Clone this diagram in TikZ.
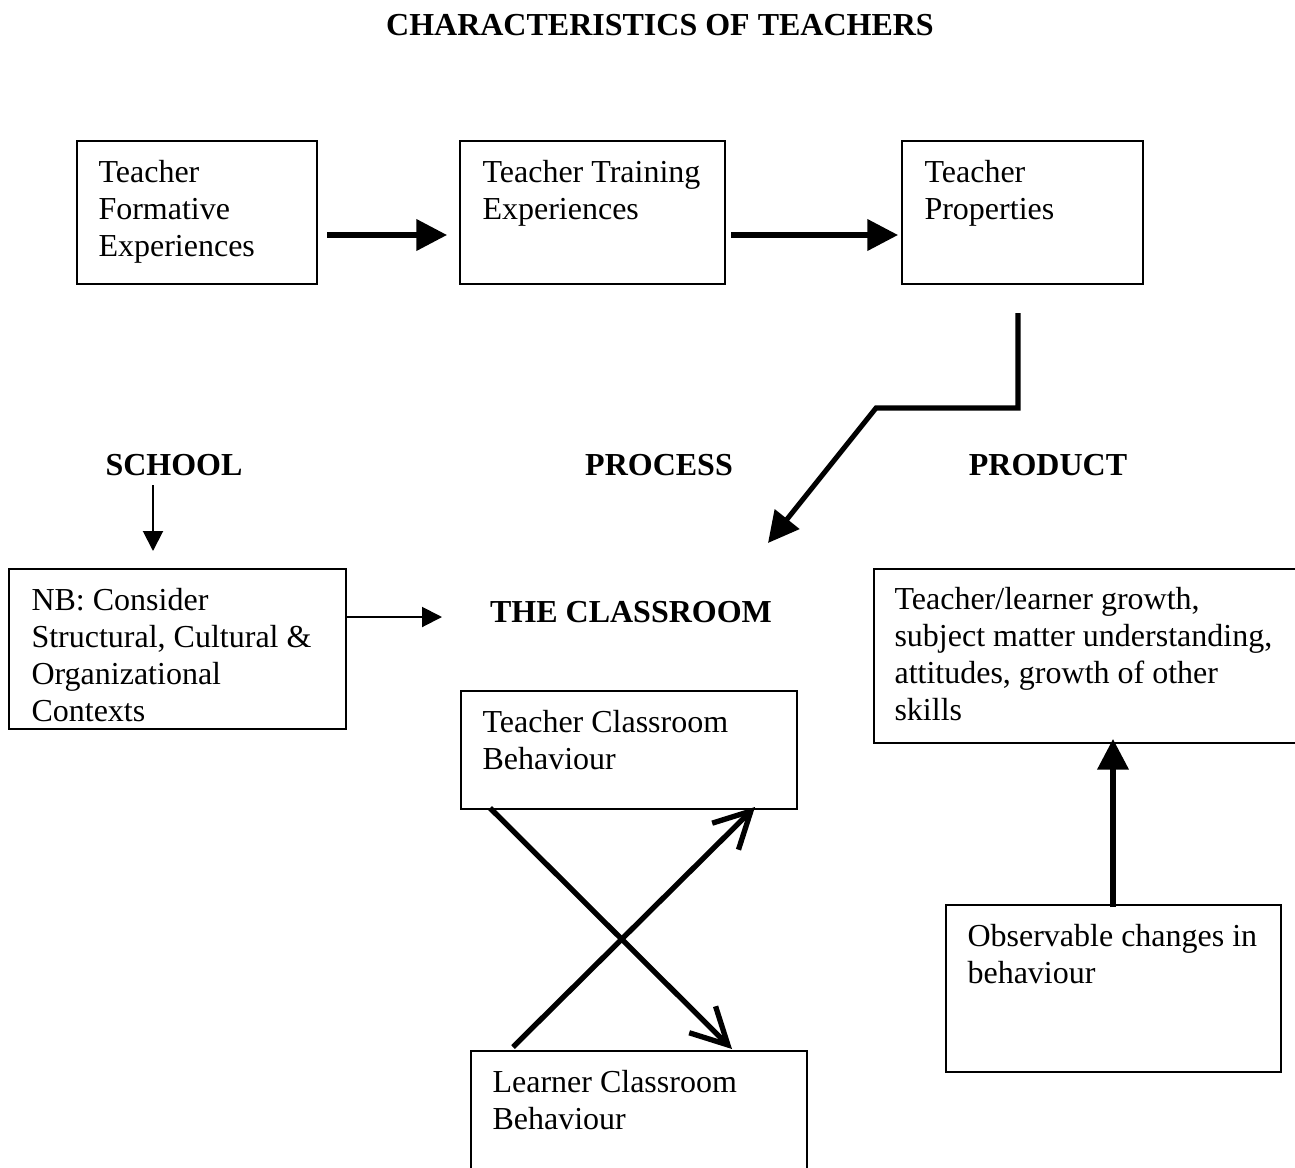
\documentclass[tikz,border=0pt]{standalone}
\usepackage{fontspec}
\setmainfont{Liberation Serif}
\usetikzlibrary{arrows.meta,fit}
\begin{document}
\begin{tikzpicture}[x=0.375pt,y=-0.375pt,
  box/.style={draw,line width=0.75pt,inner sep=0pt},
  txt/.style={anchor=north west,align=left,inner sep=0pt,font=\fontsize{12}{13.875}\selectfont},
  hd/.style={anchor=base,inner sep=0pt,font=\fontsize{12}{13.875}\selectfont\bfseries},
  thickarrow/.style={line width=1.9pt,-{Triangle[length=11.5pt,width=11.5pt]}},
  thinarrow/.style={line width=0.75pt,-{Triangle[length=7.5pt,width=7.5pt]}},
  barbarrow/.style={line width=2pt,-{Straight Barb[length=13.5pt,width=14pt]}},
]
\clip (0,0) rectangle (1295,1167);
\fill[white] (0,0) rectangle (1295,1167);

% title and headings
\node[hd] (title) at (660,35) {CHARACTERISTICS OF TEACHERS};
\node[hd] (school) at (174,475) {SCHOOL};
\node[hd] (process) at (659,475) {PROCESS};
\node[hd] (product) at (1048,475) {PRODUCT};
\node[hd] (classroom) at (631,622) {THE CLASSROOM};

% boxes
\node[box, fit={(77,141) (317,284)}] (b1) {};
\node[txt] (t1) at (98,160) {Teacher\\Formative\\Experiences};
\node[box, fit={(460,141) (725,284)}] (b2) {};
\node[txt] (t2) at (482,160) {Teacher Training\\Experiences};
\node[box, fit={(902,141) (1143,284)}] (b3) {};
\node[txt] (t3) at (924,160) {Teacher\\Properties};

\node[box, fit={(9,569) (346,729)}] (nb) {};
\node[txt] (tnb) at (31,588) {NB: Consider\\Structural, Cultural \&\\Organizational\\Contexts};

\node[box, fit={(874,569) (1310,743)}] (prod) {};
\node[txt] (tprod) at (894,587) {Teacher/learner growth,\\subject matter understanding,\\attitudes, growth of other\\skills};

\node[box, fit={(461,691) (797,809)}] (tcb) {};
\node[txt] (ttcb) at (482,710) {Teacher Classroom\\Behaviour};

\node[box, fit={(471,1051) (807,1190)}] (lcb) {};
\node[txt] (tlcb) at (492,1070) {Learner Classroom\\Behaviour};

\node[box, fit={(946,905) (1281,1072)}] (obs) {};
\node[txt] (tobs) at (967,924) {Observable changes in\\behaviour};

% connector ends
\coordinate (a1s) at (327,235);
\coordinate (a1e) at (447,235);
\coordinate (a2s) at (731,235);
\coordinate (a2e) at (898,235);
\coordinate (p1) at (1018,313);
\coordinate (p2) at (1018,408);
\coordinate (p3) at (876,408);
\coordinate (p4) at (768,543);
\coordinate (s1) at (153,485);
\coordinate (s2) at (153,551);
\coordinate (n1) at (346,617);
\coordinate (n2) at (442,617);
\coordinate (x1s) at (490,808);
\coordinate (x1e) at (732,1049);
\coordinate (x2s) at (513,1047);
\coordinate (x2e) at (755,807);
\coordinate (u1) at (1113,907);
\coordinate (u2) at (1113,739);

% connectors
\draw[thickarrow] (a1s) -- (a1e);
\draw[thickarrow] (a2s) -- (a2e);
\draw[thickarrow, line join=miter] (p1) -- (p2) -- (p3) -- (p4);
\draw[thinarrow] (s1) -- (s2);
\draw[thinarrow] (n1) -- (n2);
\draw[barbarrow] (x1s) -- (x1e);
\draw[barbarrow] (x2s) -- (x2e);
\draw[thickarrow] (u1) -- (u2);
\end{tikzpicture}
\end{document}
